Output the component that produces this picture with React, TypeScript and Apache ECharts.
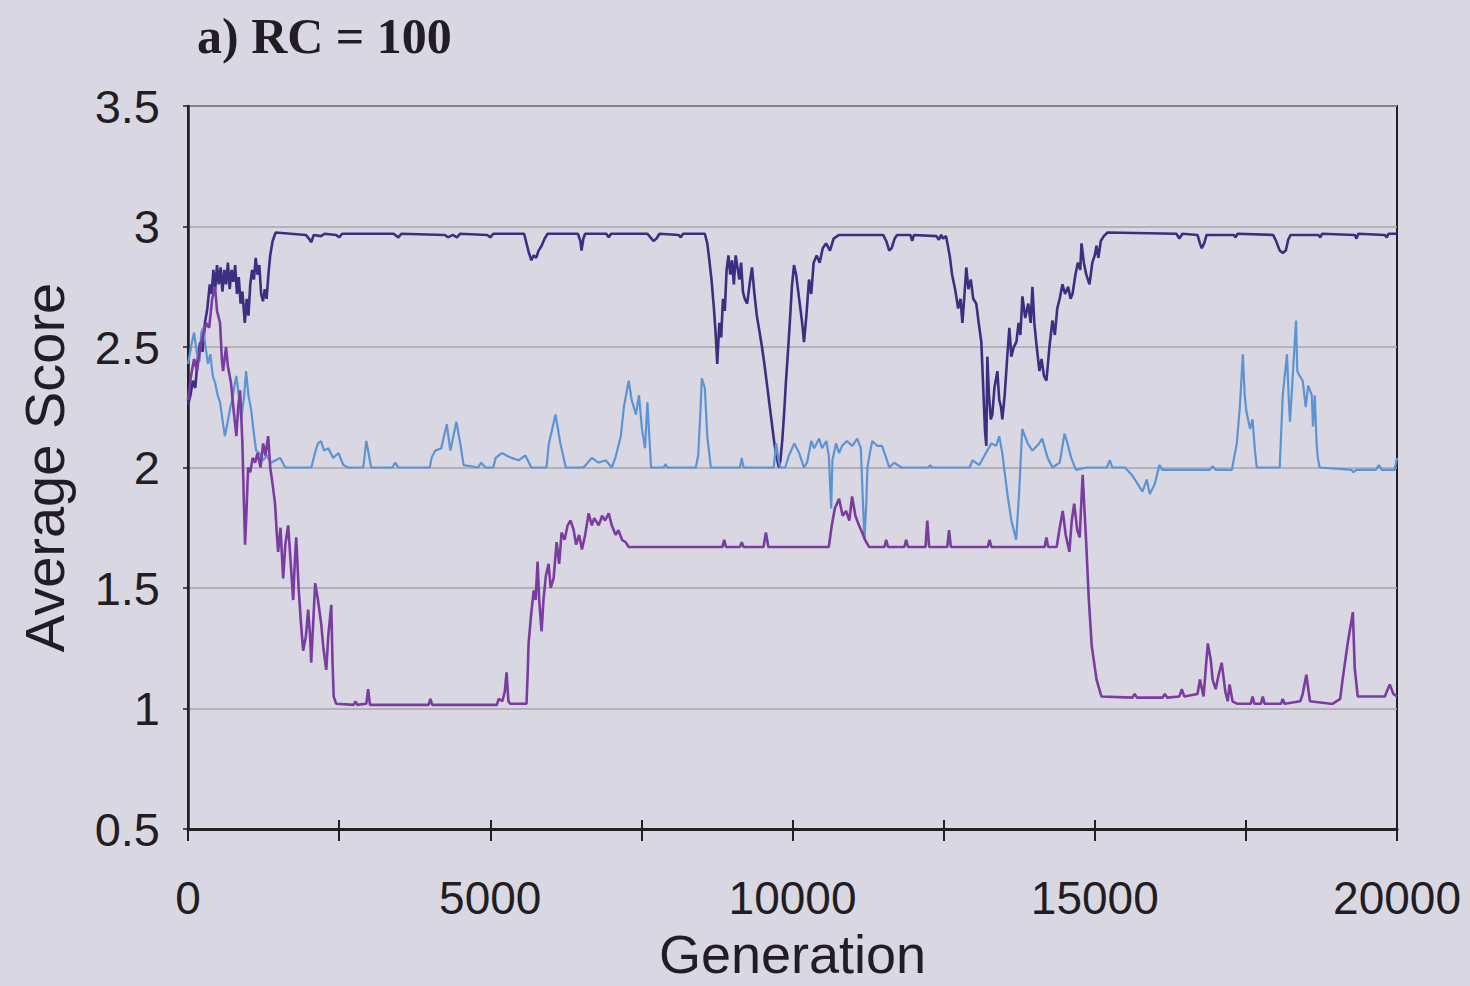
import React, { useEffect, useRef } from "react";
import * as echarts from "echarts";

const TITLE = "a) RC = 100";
const X_NAME = "Generation";
const Y_NAME = "Average Score";
const X_MIN = 0;
const X_MAX = 20000;
const Y_MIN = 0.5;
const Y_MAX = 3.5;

// top (dark navy) series: [generation, average score]
const topSeries: [number, number][] = [
  [0, 2.26], [40, 2.3], [80, 2.36], [120, 2.33], [160, 2.45], [200, 2.52], [240, 2.48], [280, 2.6], [320, 2.66],
  [360, 2.76], [390, 2.72], [420, 2.82], [450, 2.74], [480, 2.84], [510, 2.76], [540, 2.83], [570, 2.73], [600, 2.82],
  [630, 2.76], [660, 2.85], [690, 2.74], [720, 2.82], [750, 2.77], [780, 2.84], [810, 2.72], [840, 2.79], [870, 2.68],
  [900, 2.73], [940, 2.6], [970, 2.7], [1000, 2.63], [1030, 2.76], [1060, 2.82], [1090, 2.78], [1120, 2.87],
  [1150, 2.8], [1180, 2.84], [1210, 2.72], [1240, 2.69], [1270, 2.74], [1300, 2.7], [1330, 2.8], [1360, 2.88],
  [1400, 2.94], [1450, 2.975], [1700, 2.97], [1950, 2.965], [2000, 2.95], [2040, 2.935], [2080, 2.965],
  [2200, 2.96], [2260, 2.97], [2450, 2.965], [2500, 2.955], [2550, 2.97], [3400, 2.97], [3480, 2.955], [3530, 2.97],
  [4250, 2.965], [4300, 2.955], [4380, 2.965], [4450, 2.955], [4500, 2.97], [4950, 2.965], [5000, 2.955],
  [5050, 2.97], [5560, 2.97], [5600, 2.93], [5640, 2.89], [5680, 2.86], [5720, 2.88], [5760, 2.87], [5800, 2.9],
  [5850, 2.92], [5900, 2.95], [5950, 2.97], [6450, 2.97], [6490, 2.94], [6510, 2.9], [6540, 2.95], [6570, 2.97],
  [6920, 2.97], [6960, 2.955], [7000, 2.97], [7600, 2.97], [7650, 2.955], [7700, 2.94], [7750, 2.95],
  [7800, 2.97], [8120, 2.965], [8150, 2.955], [8190, 2.97], [8550, 2.97], [8590, 2.93], [8620, 2.87], [8660, 2.78],
  [8700, 2.66], [8730, 2.55], [8755, 2.43], [8790, 2.6], [8820, 2.54], [8850, 2.7], [8880, 2.65], [8910, 2.82],
  [8940, 2.88], [8970, 2.8], [9000, 2.86], [9030, 2.76], [9060, 2.88], [9090, 2.83], [9120, 2.78], [9150, 2.85],
  [9180, 2.73], [9210, 2.7], [9250, 2.68], [9290, 2.76], [9330, 2.83], [9370, 2.72], [9410, 2.63], [9450, 2.57],
  [9495, 2.5], [9540, 2.42], [9590, 2.32], [9640, 2.22], [9690, 2.12], [9730, 2.05], [9775, 2.0], [9800, 2.03],
  [9830, 2.11], [9860, 2.22], [9890, 2.35], [9930, 2.5], [9960, 2.62], [9990, 2.75], [10025, 2.84], [10060, 2.8],
  [10110, 2.7], [10160, 2.6], [10190, 2.52], [10230, 2.63], [10273, 2.78], [10310, 2.72], [10350, 2.85],
  [10400, 2.88], [10450, 2.85], [10500, 2.91], [10555, 2.93], [10620, 2.9], [10680, 2.95], [10770, 2.965],
  [11500, 2.965], [11550, 2.94], [11600, 2.9], [11640, 2.91], [11690, 2.95], [11730, 2.965], [11950, 2.965],
  [11980, 2.94], [12010, 2.965], [12380, 2.96], [12420, 2.945], [12460, 2.965], [12490, 2.95], [12540, 2.96],
  [12600, 2.88], [12640, 2.8], [12690, 2.74], [12740, 2.66], [12780, 2.7], [12810, 2.6], [12840, 2.7],
  [12875, 2.83], [12910, 2.74], [12950, 2.78], [12990, 2.7], [13040, 2.68], [13080, 2.6], [13124, 2.52],
  [13160, 2.3], [13185, 2.15], [13206, 2.09], [13223, 2.46], [13250, 2.3], [13280, 2.2], [13306, 2.22],
  [13340, 2.33], [13389, 2.4], [13420, 2.28], [13450, 2.25], [13471, 2.2], [13510, 2.3], [13550, 2.45],
  [13587, 2.58], [13620, 2.46], [13660, 2.5], [13703, 2.52], [13740, 2.6], [13770, 2.55], [13803, 2.71],
  [13850, 2.62], [13900, 2.68], [13940, 2.6], [13969, 2.75], [14000, 2.6], [14040, 2.5], [14085, 2.4],
  [14120, 2.45], [14160, 2.38], [14201, 2.36], [14250, 2.5], [14300, 2.61], [14340, 2.55], [14380, 2.66],
  [14420, 2.7], [14466, 2.76], [14510, 2.72], [14560, 2.75], [14600, 2.7], [14632, 2.72], [14680, 2.8],
  [14720, 2.85], [14760, 2.82], [14781, 2.93], [14820, 2.85], [14860, 2.8], [14913, 2.76], [14960, 2.85],
  [15000, 2.88], [15029, 2.92], [15060, 2.87], [15100, 2.94], [15150, 2.96], [15211, 2.975], [16350, 2.97],
  [16400, 2.95], [16450, 2.97], [16700, 2.965], [16740, 2.93], [16770, 2.91], [16810, 2.93], [16850, 2.965],
  [17300, 2.965], [17330, 2.955], [17360, 2.97], [17950, 2.965], [18000, 2.94], [18060, 2.9], [18110, 2.89],
  [18160, 2.9], [18200, 2.945], [18240, 2.965], [18700, 2.965], [18730, 2.955], [18760, 2.97], [19300, 2.965],
  [19330, 2.95], [19360, 2.97], [19800, 2.965], [19830, 2.955], [19860, 2.97], [20000, 2.97],
];

// middle (light blue) series
const midSeries: [number, number][] = [
  [0, 2.43], [50, 2.5], [100, 2.56], [150, 2.47], [190, 2.44], [220, 2.56], [250, 2.58], [290, 2.5], [330, 2.43],
  [370, 2.47], [410, 2.38], [450, 2.35], [490, 2.3], [530, 2.27], [570, 2.2], [610, 2.13], [650, 2.18], [700, 2.25],
  [730, 2.28], [770, 2.34], [800, 2.38], [840, 2.3], [880, 2.2], [930, 2.3], [960, 2.4], [1000, 2.3], [1044, 2.24],
  [1090, 2.14], [1127, 2.07], [1180, 2.06], [1243, 2.03], [1300, 2.05], [1375, 2.02], [1450, 2.03], [1524, 2.04],
  [1607, 2.0], [2040, 2.0], [2100, 2.06], [2150, 2.1], [2200, 2.11], [2250, 2.07], [2320, 2.08], [2400, 2.04],
  [2490, 2.06], [2570, 2.01], [2650, 2.0], [2900, 2.0], [2950, 2.11], [3030, 2.0], [3380, 2.0], [3430, 2.02],
  [3480, 2.0], [4000, 2.0], [4030, 2.04], [4090, 2.07], [4190, 2.08], [4280, 2.18], [4340, 2.07], [4440, 2.19],
  [4510, 2.09], [4560, 2.01], [4800, 2.0], [4850, 2.02], [4920, 2.0], [5050, 2.0], [5090, 2.04], [5190, 2.06],
  [5270, 2.05], [5350, 2.04], [5470, 2.03], [5580, 2.05], [5680, 2.0], [5930, 2.0], [5970, 2.1], [6080, 2.22],
  [6160, 2.1], [6250, 2.0], [6540, 2.0], [6580, 2.01], [6680, 2.04], [6790, 2.02], [6910, 2.03], [7010, 2.0],
  [7070, 2.04], [7160, 2.13], [7210, 2.25], [7290, 2.36], [7340, 2.28], [7410, 2.22], [7460, 2.3], [7510, 2.16],
  [7560, 2.08], [7600, 2.27], [7660, 2.0], [7870, 2.0], [7900, 2.015], [7930, 2.0], [8400, 2.0], [8440, 2.05],
  [8480, 2.25], [8500, 2.37], [8550, 2.33], [8590, 2.13], [8650, 2.0], [9130, 2.0], [9160, 2.04], [9190, 2.0],
  [9690, 2.0], [9730, 2.1], [9770, 2.03], [9800, 2.0], [9880, 2.0], [9940, 2.05], [10030, 2.1], [10110, 2.06],
  [10190, 2.0], [10240, 2.02], [10310, 2.11], [10360, 2.08], [10440, 2.12], [10490, 2.08], [10560, 2.11],
  [10600, 2.05], [10640, 1.83], [10660, 2.03], [10720, 2.1], [10770, 2.06], [10820, 2.09], [10900, 2.11],
  [10990, 2.09], [11070, 2.12], [11130, 2.08], [11190, 1.7], [11220, 1.85], [11240, 2.0], [11280, 2.06],
  [11320, 2.11], [11400, 2.09], [11480, 2.09], [11550, 2.04], [11600, 2.0], [11680, 2.02], [11800, 2.0],
  [12250, 2.0], [12280, 2.01], [12310, 2.0], [12930, 2.0], [12980, 2.03], [13090, 2.01], [13200, 2.06],
  [13290, 2.1], [13370, 2.09], [13420, 2.13], [13470, 2.06], [13500, 2.0], [13560, 1.88], [13620, 1.78],
  [13700, 1.7], [13750, 1.9], [13800, 2.16], [13890, 2.1], [13970, 2.07], [14080, 2.1], [14130, 2.12],
  [14220, 2.04], [14300, 2.0], [14420, 2.02], [14500, 2.14], [14550, 2.1], [14610, 2.04], [14690, 1.99],
  [14860, 2.0], [15200, 2.0], [15250, 2.03], [15290, 2.0], [15500, 2.0], [15610, 1.97], [15690, 1.94],
  [15790, 1.9], [15860, 1.95], [15910, 1.89], [15990, 1.93], [16070, 2.01], [16120, 1.99], [16900, 1.99],
  [16950, 2.005], [17000, 1.99], [17270, 1.99], [17290, 2.02], [17350, 2.1], [17400, 2.25], [17450, 2.47],
  [17480, 2.3], [17510, 2.23], [17570, 2.16], [17610, 2.2], [17650, 2.07], [17680, 2.0], [18060, 2.0],
  [18110, 2.3], [18180, 2.47], [18210, 2.28], [18230, 2.19], [18280, 2.4], [18330, 2.61], [18350, 2.4],
  [18390, 2.38], [18440, 2.36], [18490, 2.25], [18530, 2.34], [18590, 2.3], [18610, 2.17], [18640, 2.3],
  [18670, 2.1], [18690, 2.04], [18720, 2.0], [19250, 1.99], [19280, 1.98], [19320, 1.99], [19650, 1.99],
  [19700, 2.01], [19750, 1.99], [19960, 1.99], [20000, 2.04],
];

// bottom (purple) series
const lowSeries: [number, number][] = [
  [0, 2.28], [50, 2.38], [100, 2.45], [150, 2.4], [200, 2.5], [250, 2.55], [300, 2.6], [350, 2.58], [400, 2.7],
  [447, 2.75], [480, 2.65], [530, 2.6], [560, 2.45], [580, 2.4], [630, 2.5], [660, 2.42], [712, 2.35], [750, 2.25],
  [800, 2.13], [830, 2.25], [862, 2.32], [900, 2.1], [920, 1.9], [944, 1.68], [965, 1.8], [994, 2.0], [1030, 1.98],
  [1070, 2.04], [1110, 2.02], [1150, 2.06], [1200, 2.0], [1243, 2.1], [1280, 2.05], [1326, 2.13], [1360, 2.0],
  [1400, 1.93], [1440, 1.85], [1470, 1.72], [1491, 1.65], [1530, 1.75], [1574, 1.54], [1610, 1.68], [1657, 1.76],
  [1700, 1.6], [1740, 1.45], [1765, 1.6], [1790, 1.71], [1830, 1.5], [1870, 1.35], [1905, 1.24], [1950, 1.3],
  [1988, 1.41], [2020, 1.3], [2038, 1.19], [2070, 1.35], [2104, 1.52], [2150, 1.45], [2204, 1.35], [2240, 1.25],
  [2287, 1.16], [2320, 1.3], [2370, 1.43], [2390, 1.2], [2410, 1.05], [2450, 1.02], [2740, 1.015], [2770, 1.03],
  [2800, 1.015], [2950, 1.02], [2980, 1.08], [3010, 1.015], [3980, 1.015], [4010, 1.04], [4040, 1.015],
  [5110, 1.015], [5140, 1.04], [5200, 1.03], [5240, 1.07], [5270, 1.15], [5300, 1.03], [5330, 1.02],
  [5600, 1.02], [5620, 1.15], [5634, 1.27], [5680, 1.4], [5720, 1.49], [5750, 1.45], [5783, 1.61], [5810, 1.45],
  [5849, 1.32], [5880, 1.45], [5920, 1.55], [5965, 1.6], [6000, 1.5], [6048, 1.54], [6098, 1.69], [6140, 1.6],
  [6180, 1.73], [6230, 1.7], [6280, 1.76], [6330, 1.78], [6380, 1.74], [6420, 1.68], [6470, 1.72], [6517, 1.66],
  [6570, 1.72], [6628, 1.81], [6680, 1.76], [6720, 1.79], [6794, 1.76], [6850, 1.8], [6900, 1.78], [6960, 1.81],
  [7010, 1.76], [7075, 1.72], [7120, 1.74], [7180, 1.7], [7240, 1.69], [7290, 1.67], [8840, 1.67], [8870, 1.7],
  [8900, 1.67], [9130, 1.67], [9160, 1.69], [9190, 1.67], [9520, 1.67], [9560, 1.73], [9600, 1.67],
  [10600, 1.67], [10650, 1.76], [10700, 1.83], [10770, 1.87], [10830, 1.8], [10886, 1.82], [10940, 1.78],
  [10986, 1.88], [11040, 1.8], [11100, 1.76], [11152, 1.73], [11200, 1.7], [11268, 1.67], [11520, 1.67],
  [11550, 1.7], [11580, 1.67], [11850, 1.67], [11880, 1.7], [11910, 1.67], [12200, 1.67], [12230, 1.78],
  [12260, 1.67], [12560, 1.67], [12590, 1.74], [12620, 1.67], [13230, 1.67], [13260, 1.7], [13290, 1.67],
  [14170, 1.67], [14200, 1.71], [14230, 1.67], [14370, 1.67], [14420, 1.75], [14470, 1.82], [14520, 1.72],
  [14580, 1.65], [14620, 1.78], [14660, 1.85], [14710, 1.74], [14750, 1.71], [14800, 1.97], [14860, 1.68],
  [14900, 1.46], [14950, 1.26], [15030, 1.12], [15110, 1.05], [15620, 1.045], [15660, 1.06], [15700, 1.045],
  [16120, 1.045], [16160, 1.06], [16200, 1.045], [16400, 1.05], [16440, 1.08], [16480, 1.05], [16700, 1.06],
  [16740, 1.12], [16800, 1.05], [16870, 1.27], [16920, 1.2], [16950, 1.12], [17000, 1.08], [17050, 1.14],
  [17100, 1.19], [17160, 1.07], [17200, 1.03], [17230, 1.1], [17280, 1.03], [17350, 1.02], [17580, 1.02],
  [17610, 1.05], [17640, 1.02], [17750, 1.02], [17780, 1.05], [17810, 1.02], [18080, 1.02], [18110, 1.04],
  [18140, 1.02], [18400, 1.03], [18440, 1.06], [18500, 1.14], [18560, 1.03], [18900, 1.02], [18940, 1.02],
  [19060, 1.04], [19100, 1.12], [19190, 1.28], [19270, 1.4], [19300, 1.17], [19350, 1.05], [19500, 1.05],
  [19800, 1.05], [19830, 1.07], [19880, 1.1], [19940, 1.06], [20000, 1.05],
];

const X_TICKS_LABELED = [0, 5000, 10000, 15000, 20000];

const COLORS = {
  top: "#3d2e82",
  mid: "#5b93d4",
  low: "#7b3ca2",
  text: "#221d22",
  axis: "#231f22",
  grid: "#a7a5ae",
  bg: "#d9d8e2",
};

export default function App() {
  const ref = useRef<HTMLDivElement>(null);

  useEffect(() => {
    if (!ref.current) return;
    const chart = echarts.init(ref.current, null, { renderer: "svg" });
    const font = "'Liberation Sans', Arial, sans-serif";
    const option: any = {
      animation: false,
      backgroundColor: COLORS.bg,
      title: {
        text: TITLE,
        left: 192,
        top: 6,
        textStyle: {
          fontFamily: "'Liberation Serif', 'Times New Roman', serif",
          fontWeight: "bold",
          fontSize: 50,
          color: COLORS.text,
        },
      },
      grid: {
        left: 188,
        right: 73,
        top: 106,
        bottom: 154,
        show: true,
        borderColor: COLORS.axis,
        borderWidth: 2,
        backgroundColor: "transparent",
        containLabel: false,
      },
      xAxis: [
        {
          type: "value",
          min: X_MIN,
          max: X_MAX,
          interval: 2500,
          position: "bottom",
          name: X_NAME,
          nameLocation: "middle",
          nameGap: 98,
          nameTextStyle: { fontFamily: font, fontSize: 54, color: COLORS.text },
          axisLine: { show: true, lineStyle: { color: COLORS.axis, width: 3 } },
          axisTick: { show: true, length: 12, lineStyle: { color: COLORS.axis, width: 2 } },
          axisLabel: {
            fontFamily: font,
            fontSize: 46,
            color: COLORS.text,
            margin: 46,
            formatter: (v: number) => (X_TICKS_LABELED.includes(v) ? String(v) : ""),
          },
          splitLine: { show: false },
        },
        {
          type: "value",
          min: X_MIN,
          max: X_MAX,
          interval: 2500,
          position: "bottom",
          axisLine: { show: false },
          axisTick: { show: true, inside: true, length: 9, lineStyle: { color: COLORS.axis, width: 2 } },
          axisLabel: { show: false },
          splitLine: { show: false },
        },
      ],
      yAxis: {
        type: "value",
        min: Y_MIN,
        max: Y_MAX,
        interval: 0.5,
        name: Y_NAME,
        nameLocation: "middle",
        nameGap: 116,
        nameTextStyle: { fontFamily: font, fontSize: 56, color: COLORS.text },
        axisLine: { show: true, lineStyle: { color: COLORS.axis, width: 2.5 } },
        axisTick: { show: true, length: 5, lineStyle: { color: COLORS.axis, width: 1.5 } },
        axisLabel: { fontFamily: font, fontSize: 47, color: COLORS.text, margin: 28 },
        splitLine: { show: true, lineStyle: { color: COLORS.grid, width: 1.5 } },
      },
      series: [
        {
          type: "line",
          data: topSeries,
          showSymbol: false,
          lineStyle: { color: COLORS.top, width: 2.6 },
          itemStyle: { color: COLORS.top },
        },
        {
          type: "line",
          data: midSeries,
          showSymbol: false,
          lineStyle: { color: COLORS.mid, width: 2.2 },
          itemStyle: { color: COLORS.mid },
        },
        {
          type: "line",
          data: lowSeries,
          showSymbol: false,
          lineStyle: { color: COLORS.low, width: 2.6 },
          itemStyle: { color: COLORS.low },
        },
      ],
    };
    chart.setOption(option);
    return () => chart.dispose();
  }, []);

  return (
    <div
      ref={ref}
      style={{ position: "fixed", left: 0, top: 0, width: 1470, height: 986, background: COLORS.bg }}
    />
  );
}
